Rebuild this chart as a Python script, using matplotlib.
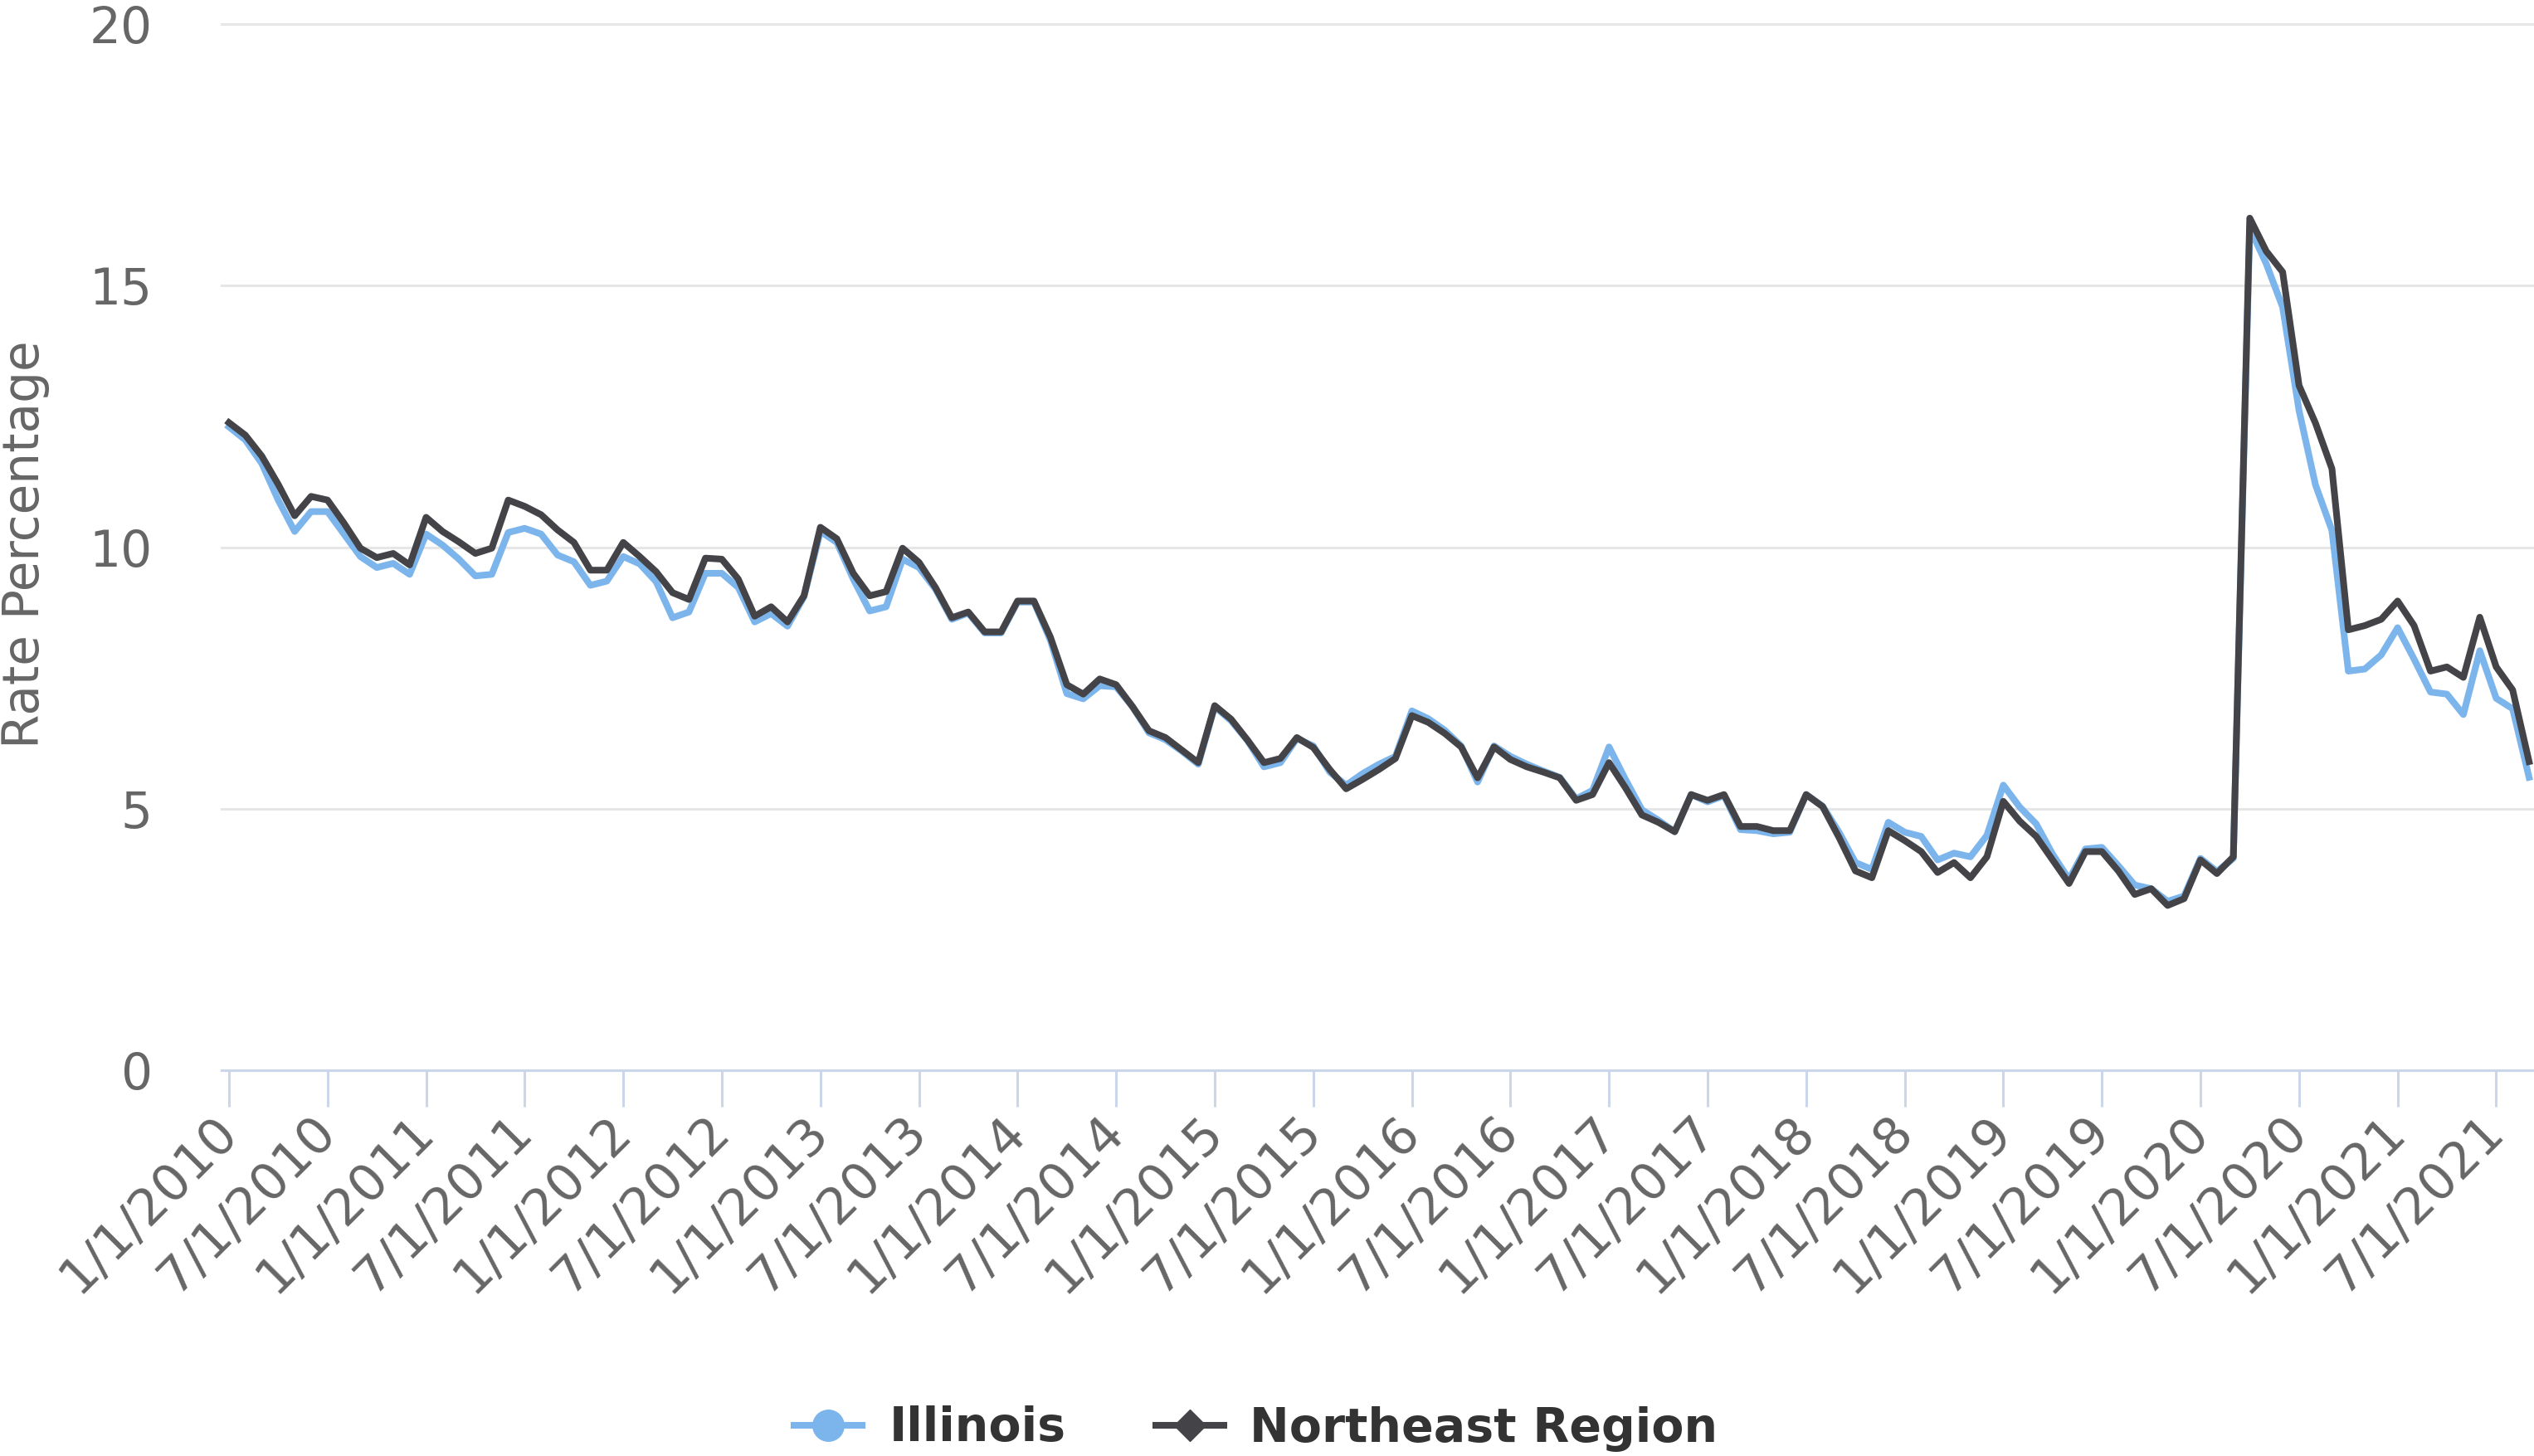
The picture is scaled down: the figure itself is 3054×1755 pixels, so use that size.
import matplotlib
matplotlib.use("Agg")
import matplotlib.pyplot as plt
from matplotlib.lines import Line2D
import numpy as np

W, H, DPI = 3054, 1755, 100

# ---- data -------------------------------------------------------------
start_year = 2010
n_months = 141  # Jan 2010 .. Sep 2021
categories = [f"{(m % 12) + 1}/1/{start_year + m // 12}" for m in range(n_months)]

illinois = [
    12.30, 12.05, 11.60, 10.90, 10.30, 10.68, 10.68, 10.25, 9.82, 9.61, 9.69, 9.48,
    10.25, 10.04, 9.77, 9.45, 9.48, 10.28, 10.36, 10.25, 9.85, 9.72, 9.27, 9.35,
    9.82, 9.68, 9.34, 8.65, 8.76, 9.50, 9.50, 9.23, 8.57, 8.73, 8.49, 9.05,
    10.30, 10.09, 9.39, 8.78, 8.86, 9.77, 9.61, 9.20, 8.62, 8.74, 8.36, 8.36,
    8.95, 8.95, 8.22, 7.20, 7.10, 7.35, 7.33, 6.95, 6.45, 6.32, 6.10, 5.85,
    6.95, 6.68, 6.30, 5.80, 5.88, 6.34, 6.20, 5.70, 5.45, 5.67, 5.85, 6.00,
    6.87, 6.72, 6.50, 6.20, 5.51, 6.20, 6.00, 5.85, 5.72, 5.60, 5.19, 5.35,
    6.18, 5.56, 4.98, 4.78, 4.56, 5.27, 5.13, 5.25, 4.60, 4.58, 4.52, 4.55,
    5.27, 5.05, 4.55, 3.97, 3.84, 4.74, 4.55, 4.47, 4.02, 4.15, 4.08, 4.49,
    5.45, 5.03, 4.71, 4.13, 3.65, 4.23, 4.26, 3.91, 3.54, 3.47, 3.23, 3.33,
    4.05, 3.80, 4.05, 16.10, 15.42, 14.59, 12.61, 11.19, 10.32, 7.63, 7.67, 7.94,
    8.46, 7.86, 7.23, 7.19, 6.80, 8.02, 7.11, 6.91, 5.60,
]

northeast = [
    12.38, 12.14, 11.74, 11.20, 10.60, 10.97, 10.90, 10.46, 9.98, 9.80, 9.88, 9.66,
    10.57, 10.30, 10.10, 9.88, 9.98, 10.90, 10.78, 10.62, 10.33, 10.09, 9.56, 9.56,
    10.09, 9.82, 9.53, 9.13, 9.00, 9.79, 9.77, 9.39, 8.68, 8.86, 8.57, 9.07,
    10.38, 10.16, 9.50, 9.07, 9.15, 9.98, 9.71, 9.23, 8.65, 8.76, 8.38, 8.38,
    8.97, 8.97, 8.28, 7.37, 7.19, 7.48, 7.37, 6.95, 6.49, 6.36, 6.12, 5.88,
    6.97, 6.71, 6.31, 5.88, 5.96, 6.36, 6.17, 5.75, 5.38, 5.56, 5.75, 5.96,
    6.78, 6.65, 6.44, 6.18, 5.59, 6.18, 5.94, 5.80, 5.70, 5.59, 5.16, 5.27,
    5.88, 5.40, 4.88, 4.74, 4.56, 5.27, 5.16, 5.27, 4.66, 4.66, 4.58, 4.58,
    5.27, 5.04, 4.45, 3.81, 3.68, 4.58, 4.39, 4.18, 3.78, 3.97, 3.68, 4.08,
    5.14, 4.76, 4.47, 4.02, 3.57, 4.18, 4.18, 3.81, 3.36, 3.47, 3.15, 3.28,
    4.02, 3.76, 4.08, 16.29, 15.66, 15.26, 13.09, 12.37, 11.50, 8.42, 8.50, 8.62,
    8.97, 8.50, 7.63, 7.71, 7.51, 8.66, 7.71, 7.27, 5.90,
]

series_names = ["Illinois", "Northeast Region"]
y_ticks = [0, 5, 10, 15, 20]
tick_step = 6

# ---- style ------------------------------------------------------------
c_ill = "#7cb5ec"
c_ne = "#434348"
lw = 5.8

fig = plt.figure(figsize=(W / DPI, H / DPI), dpi=DPI)
left_px, right_px, top_px, bottom_px = 267, 3054, 29, 1290
ax = fig.add_axes([left_px / W, 1 - bottom_px / H,
                   (right_px - left_px) / W, (bottom_px - top_px) / H])

x = np.arange(len(categories))
ax.plot(x, illinois, color=c_ill, lw=lw, solid_joinstyle="round", zorder=3)
ax.plot(x, northeast, color=c_ne, lw=lw, solid_joinstyle="round", zorder=4)

ax.set_xlim(-0.45, len(categories) - 1 + 0.3)
ax.set_ylim(0, 20)
ax.set_yticks(y_ticks)
ax.set_yticklabels([str(t) for t in y_ticks])
ax.yaxis.grid(True, color="#e6e6e6", lw=2.2)
for gl in ax.get_ygridlines():
    gl.set_clip_on(False)
ax.set_axisbelow(True)

for s in ["top", "right", "left"]:
    ax.spines[s].set_visible(False)
ax.spines["bottom"].set_color("#ccd6eb")
ax.spines["bottom"].set_linewidth(2.2)
ax.spines["bottom"].set_zorder(5)

ax.tick_params(axis="y", length=0, pad=60, labelsize=43, labelcolor="#666666")
ax.tick_params(axis="x", length=32, width=2.2, color="#ccd6eb", pad=15,
               labelsize=44, labelcolor="#666666")
ax.set_xticks(x[::tick_step])
ax.set_xticklabels(categories[::tick_step], rotation=45, ha="right",
                   va="center", rotation_mode="anchor")

fig.text(31 / W, 1 - 656 / H, "Rate Percentage", rotation=90, ha="center",
         va="center", fontsize=43, color="#666666")

handles = [
    Line2D([], [], color=c_ill, lw=lw, marker="o", ms=27),
    Line2D([], [], color=c_ne, lw=lw, marker="D", ms=19),
]
fig.legend(handles, series_names, loc="center", bbox_to_anchor=(1514 / W, 33 / H),
           ncol=2, frameon=False, prop={"weight": "bold", "size": 41},
           labelcolor="#333333", handlelength=1.44, handletextpad=0.56,
           columnspacing=1.9, borderaxespad=0, borderpad=0, numpoints=1)

fig.savefig("out.png", dpi=DPI)
